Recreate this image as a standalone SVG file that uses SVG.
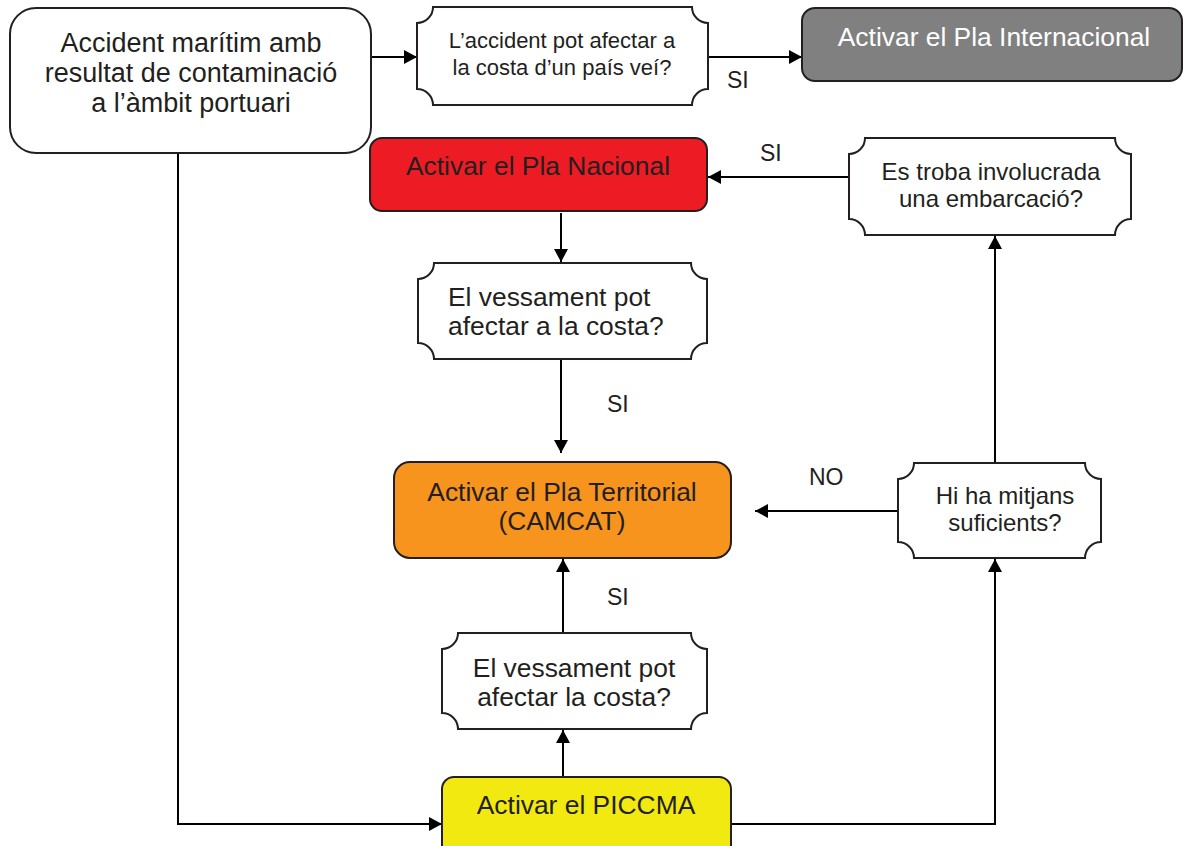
<svg xmlns="http://www.w3.org/2000/svg" width="1183" height="846" viewBox="0 0 1183 846">
<style>
.box{stroke:#231f20;stroke-width:2}
.t{font-family:"Liberation Sans",Arial,sans-serif;fill:#231f20}
.big{font-size:26.4px}
.xl{font-size:27px}
.mid{font-size:24px}
.sm{font-size:22px}
.lbl{font-family:"Liberation Sans",Arial,sans-serif;fill:#231f20;font-size:23px}
.c{text-anchor:middle}
.ln{fill:none;stroke:#000;stroke-width:2;marker-end:url(#ah)}
</style>
<defs>
<marker id="ah" markerUnits="userSpaceOnUse" markerWidth="14" markerHeight="14" refX="13" refY="7" orient="auto">
<path d="M0,0 L13,7 L0,14 z" fill="#000"/>
</marker>
</defs>
<rect width="1183" height="846" fill="#fff"/>

<g id="connectors">
<path class="ln" d="M371,57 H417"/>
<path class="ln" d="M708,57 H802"/>
<path class="ln" d="M849,177 H708"/>
<path class="ln" d="M561,213 V262"/>
<path class="ln" d="M561,359 V453"/>
<path class="ln" d="M563,777 V730"/>
<path class="ln" d="M563,633 V559"/>
<path class="ln" d="M898,511 H755"/>
<path class="ln" d="M995,463 V236"/>
<path class="ln" d="M731,824 H995 V559"/>
<path class="ln" d="M178,153 V824 H442"/>
<text class="lbl" x="727" y="88">SI</text>
<text class="lbl" x="760" y="161">SI</text>
<text class="lbl" x="607" y="412">SI</text>
<text class="lbl" x="607" y="605">SI</text>
<text class="lbl" x="809" y="485">NO</text>
</g>

<g id="start">
<rect class="box" x="10" y="8" width="361" height="145" rx="26" fill="#fff"/>
<text class="t xl c" x="191" y="52">Accident marítim amb</text>
<text class="t xl c" x="191" y="82">resultat de contaminació</text>
<text class="t xl c" x="191" y="112">a l’àmbit portuari</text>
</g>

<g id="q_pais_vei">
<path class="box" fill="#fff" d="M433,7 H692 A16,16 0 0 0 708,23 V89 A16,16 0 0 0 692,105 H433 A16,16 0 0 0 417,89 V23 A16,16 0 0 0 433,7 Z"/>
<text class="t sm c" x="562" y="48">L’accident pot afectar a</text>
<text class="t sm c" x="562" y="75">la costa d’un país veí?</text>
</g>

<g id="pla_internacional">
<rect class="box" x="802" y="8" width="380" height="73" rx="13" fill="#808080"/>
<text class="t big c" x="994" y="46" style="fill:#fff">Activar el Pla Internacional</text>
</g>

<g id="pla_nacional">
<rect class="box" x="370" y="138" width="337" height="73" rx="12" fill="#ed1c24"/>
<text class="t big c" x="538" y="175">Activar el Pla Nacional</text>
</g>

<g id="q_embarcacio">
<path class="box" fill="#fff" d="M865,138 H1115 A16,16 0 0 0 1131,154 V219 A16,16 0 0 0 1115,235 H865 A16,16 0 0 0 849,219 V154 A16,16 0 0 0 865,138 Z"/>
<text class="t mid c" x="991" y="180">Es troba involucrada</text>
<text class="t mid c" x="991" y="207">una embarcació?</text>
</g>

<g id="q_costa1">
<path class="box" fill="#fff" d="M434,263 H691 A16,16 0 0 0 707,279 V343 A16,16 0 0 0 691,359 H434 A16,16 0 0 0 418,343 V279 A16,16 0 0 0 434,263 Z"/>
<text class="t big" x="448" y="306">El vessament pot</text>
<text class="t big" x="448" y="335">afectar a la costa?</text>
</g>

<g id="pla_territorial">
<rect class="box" x="394" y="462" width="337" height="96" rx="16" fill="#f7941d"/>
<text class="t big c" x="562" y="501">Activar el Pla Territorial</text>
<text class="t big c" x="562" y="530">(CAMCAT)</text>
</g>

<g id="q_mitjans">
<path class="box" fill="#fff" d="M914,463 H1085 A16,16 0 0 0 1101,479 V542 A16,16 0 0 0 1085,558 H914 A16,16 0 0 0 898,542 V479 A16,16 0 0 0 914,463 Z"/>
<text class="t mid c" x="1005" y="504">Hi ha mitjans</text>
<text class="t mid c" x="1005" y="531">suficients?</text>
</g>

<g id="q_costa2">
<path class="box" fill="#fff" d="M458,633 H691 A16,16 0 0 0 707,649 V713 A16,16 0 0 0 691,729 H458 A16,16 0 0 0 442,713 V649 A16,16 0 0 0 458,633 Z"/>
<text class="t big c" x="574" y="677">El vessament pot</text>
<text class="t big c" x="574" y="706">afectar la costa?</text>
</g>

<g id="piccma">
<rect class="box" x="442" y="777" width="289" height="80" rx="12" fill="#f2e910"/>
<text class="t big c" x="586" y="814">Activar el PICCMA</text>
</g>
</svg>
